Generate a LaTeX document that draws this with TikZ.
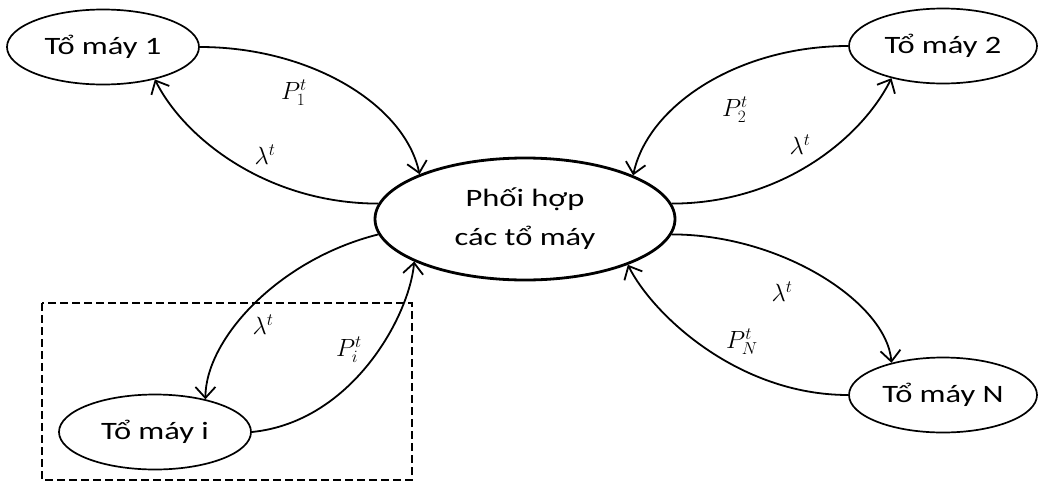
\documentclass[tikz,border=0pt]{standalone}
\usepackage{fontspec}
\setmainfont{Carlito}
\newfontfamily\wfont{Carlito}[FakeStretch=1.3]
\usetikzlibrary{shapes.geometric,arrows.meta}
\begin{document}
\begin{tikzpicture}[x=1pt,y=-1pt,
  unit/.style={ellipse, draw, line width=1.7pt, inner sep=0pt,
    minimum width=192pt, minimum height=75pt,
    font=\wfont\fontsize{25}{39}\selectfont},
  hub/.style={ellipse, draw, line width=2.8pt, inner sep=0pt,
    minimum width=300pt, minimum height=122pt, align=center,
    font=\wfont\fontsize{25}{39}\selectfont},
  conn/.style={line width=1.8pt, -{Straight Barb[length=11pt,width=20pt,line width=1.8pt]}},
  lbl/.style={inner sep=0pt, font=\fontsize{24}{25}\selectfont},
  groupbox/.style={line width=1.9pt, dash pattern=on 8pt off 4pt}]
\useasboundingbox (0,0) rectangle (1038,485);
\node[unit] (t1) at (103,47) {Tổ máy 1};
\node[unit, minimum width=188pt] (t2) at (943,46) {Tổ máy 2};
\node[unit] (ti) at (155,432) {Tổ máy i};
\node[unit, minimum width=188pt] (tN) at (943,395) {Tổ máy N};
\node[hub] (c) at (525,219) {Phối hợp\\các tổ máy};
\draw[groupbox] (42,303) rectangle (412,480);
\draw[conn] (t1.east) .. controls +(110,0) and +(-15,-70) .. (c.157);
\draw[conn] (c.174) .. controls +(-110,0) and +(30,60) .. (t1.-32);
\draw[conn] (t2.west) .. controls +(-110,0) and +(15,-70) .. (c.22);
\draw[conn] (c.6) .. controls +(110,0) and +(-30,60) .. (t2.-148);
\draw[conn] (c.-6) .. controls +(110,0) and +(-5,-60) .. (tN.148);
\draw[conn] (tN.west) .. controls +(-110,0) and +(25,50) .. (c.-24);
\draw[conn] (c.186) .. controls +(-100,25) and +(0,-60) .. (ti.33);
\draw[conn] (ti.east) .. controls +(100,-10) and +(-5,55) .. (c.201);
\node[lbl] (l1) at (294,93) {$P_1^t$};
\node[lbl] (m1) at (265,155) {$\lambda^t$};
\node[lbl] (l2) at (735,110) {$P_2^t$};
\node[lbl] (m2) at (800,145) {$\lambda^t$};
\node[lbl] (mN) at (782,292) {$\lambda^t$};
\node[lbl] (lN) at (742,342) {$P_N^t$};
\node[lbl] (mi) at (263,325) {$\lambda^t$};
\node[lbl] (li) at (349,350) {$P_i^t$};
\end{tikzpicture}
\end{document}
